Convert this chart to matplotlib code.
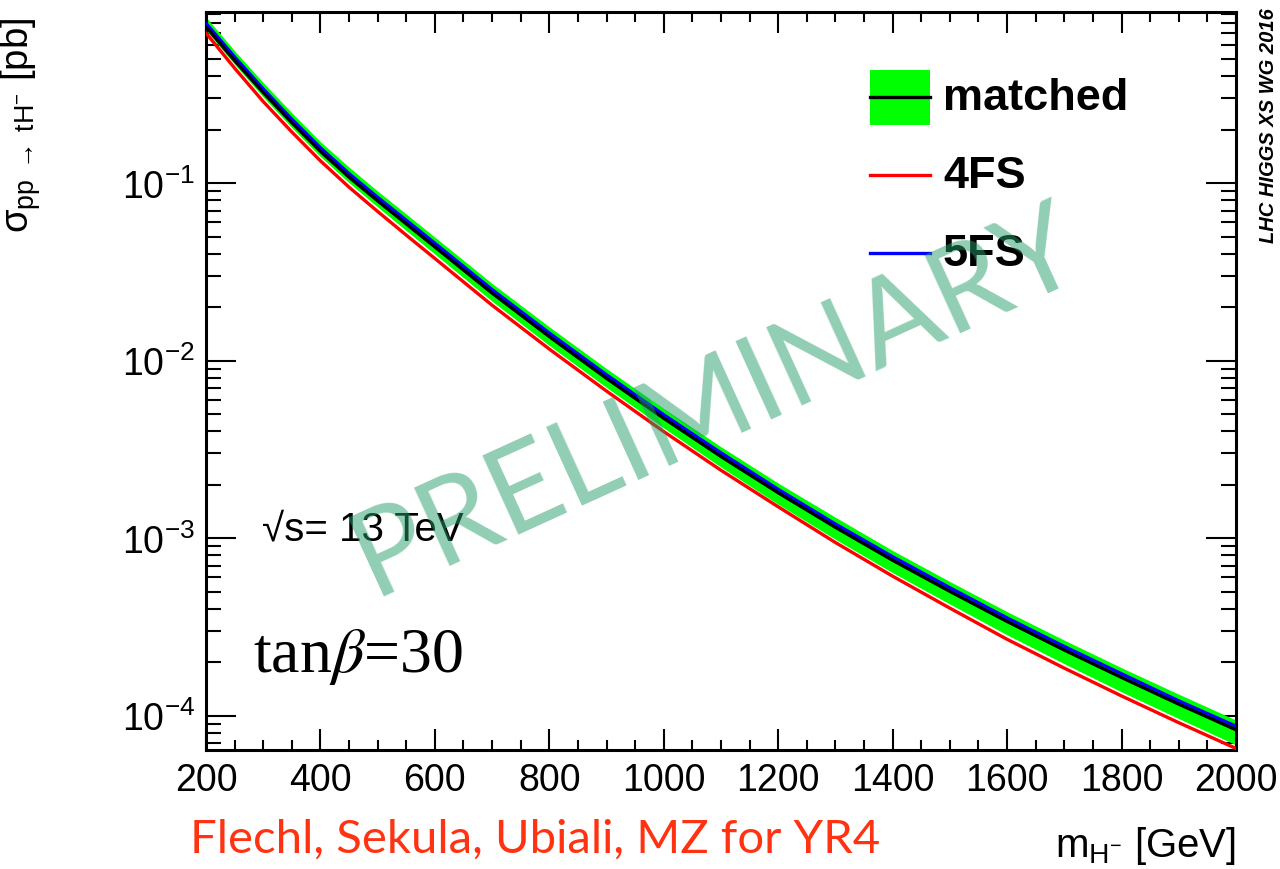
import matplotlib
matplotlib.use("Agg")
import math
import matplotlib.pyplot as plt
from matplotlib.ticker import MultipleLocator, LogLocator, FixedLocator, FuncFormatter, NullFormatter
from matplotlib.patches import Rectangle
from matplotlib.lines import Line2D

plt.rcParams['font.family'] = ['Liberation Sans', 'DejaVu Sans']
plt.rcParams['mathtext.fontset'] = 'custom'
plt.rcParams['mathtext.rm'] = 'Liberation Sans'
plt.rcParams['mathtext.it'] = 'Liberation Sans:italic'
plt.rcParams['mathtext.bf'] = 'Liberation Sans:bold'

# ---- data ----
mass = [200, 250, 300, 350, 400, 450, 500, 550, 600, 700, 800, 900, 1000,
        1100, 1200, 1300, 1400, 1500, 1600, 1700, 1800, 1900, 2000]
matched = [0.759, 0.490, 0.324, 0.219, 0.151, 0.108, 0.0794, 0.0589, 0.0437,
           0.0240, 0.01365, 0.00794, 0.00473, 0.00288, 0.00180, 0.00115,
           0.000750, 0.000501, 0.000339, 0.000234, 0.000164, 0.000116, 0.0000832]
matched_up = [0.861, 0.556, 0.368, 0.249, 0.171, 0.123, 0.0901, 0.0669, 0.0496,
              0.0272, 0.01549, 0.00901, 0.00537, 0.00327, 0.00204, 0.00131,
              0.000851, 0.000569, 0.000385, 0.000266, 0.000186, 0.000132, 0.0000944]
matched_down = [0.724, 0.466, 0.305, 0.205, 0.141, 0.1005, 0.0733, 0.0540, 0.0398,
                0.0216, 0.01216, 0.00705, 0.00417, 0.00251, 0.00155, 0.000984,
                0.000638, 0.000425, 0.000285, 0.000196, 0.000136, 0.0000962, 0.0000684]
fs4 = [0.700, 0.444, 0.288, 0.194, 0.1334, 0.0948, 0.0692, 0.0509, 0.0376,
       0.0205, 0.01161, 0.00673, 0.00398, 0.00241, 0.00150, 0.000944,
       0.000610, 0.000403, 0.000269, 0.000185, 0.000129, 0.0000912, 0.0000653]
fs5 = [0.795, 0.513, 0.339, 0.229, 0.158, 0.113, 0.0831, 0.0617, 0.0458,
       0.0251, 0.01429, 0.00831, 0.00495, 0.00302, 0.00188, 0.00120,
       0.000785, 0.000525, 0.000355, 0.000245, 0.000172, 0.000121, 0.0000871]
xticks = [200, 400, 600, 800, 1000, 1200, 1400, 1600, 1800, 2000]
yticks = [1e-4, 1e-3, 1e-2, 1e-1]

W, H = 1280, 870
fig = plt.figure(figsize=(12.8, 8.7), dpi=100)
L, R, T, B = 206, 1236, 13, 751
ax = fig.add_axes([L / W, 1 - B / H, (R - L) / W, (B - T) / H])

ax.fill_between(mass, matched_down, matched_up, color='#00ff00', lw=0, zorder=2)
ax.plot(mass, fs4, color='#ff0000', lw=2.4, zorder=3)
ax.plot(mass, fs5, color='#0000ff', lw=2.4, zorder=4)
ax.plot(mass, matched, color='black', lw=2.4, zorder=5)

ax.set_yscale('log')
ax.set_xlim(200, 2000)
ax.set_ylim(6.4e-5, 0.92)

ax.xaxis.set_major_locator(FixedLocator(xticks))
ax.xaxis.set_minor_locator(MultipleLocator(50))
ax.yaxis.set_major_locator(FixedLocator(yticks))
ax.yaxis.set_minor_locator(LogLocator(base=10, subs=range(2, 10), numticks=20))
ax.yaxis.set_minor_formatter(NullFormatter())

def yfmt(v, pos):
    e = int(round(math.log10(v)))
    return r'$10^{%d}$' % e
ax.yaxis.set_major_formatter(FuncFormatter(yfmt))

ax.tick_params(which='both', direction='in', top=True, right=True, width=1.5, labelsize=27)
ax.tick_params(axis='x', which='major', length=15, pad=9)
ax.tick_params(axis='x', which='minor', length=7.5)
ax.tick_params(axis='y', which='major', length=21.5, pad=8)
ax.tick_params(axis='y', which='minor', length=10.8)
for s in ax.spines.values():
    s.set_linewidth(2.2)

ax.set_ylabel(r'σ$_{\mathrm{pp}\;\rightarrow\;\mathrm{tH}^{-}}$ [pb]', fontsize=27.5, loc='top')
ax.yaxis.set_label_coords(-0.158, 0.993)
ax.set_xlabel(r'm$_{\mathrm{H}^{-}}$ [GeV]', fontsize=29, loc='right')
ax.xaxis.set_label_coords(1.0, -0.100)
ax.xaxis.label.set_va('top')

# legend (manual)
def fx(x):
    return x / W
def fy(y):
    return 1 - y / H
fig.add_artist(Rectangle((fx(870), fy(126)), fx(930) - fx(870), (126 - 71) / H,
                         transform=fig.transFigure, facecolor='#00ff00', edgecolor='none'))
fig.add_artist(Line2D([fx(870), fx(930)], [fy(98), fy(98)], transform=fig.transFigure, color='black', lw=2.4))
fig.add_artist(Line2D([fx(870), fx(930)], [fy(176), fy(176)], transform=fig.transFigure, color='#ff0000', lw=2.4))
fig.add_artist(Line2D([fx(870), fx(930)], [fy(254), fy(254)], transform=fig.transFigure, color='#0000ff', lw=2.4))
for txt, y in [('matched', 98), ('4FS', 176), ('5FS', 254)]:
    fig.text(fx(943), fy(y), txt, fontsize=32.5, fontweight='bold', va='center', ha='left')

# annotations
fig.text(fx(262), fy(530), '√s= 13 TeV', fontsize=29, va='center', ha='left',
         family=['Liberation Sans', 'DejaVu Sans'])
fig.text(fx(253), fy(657), r'tan$\beta$=30', fontsize=46, va='center', ha='left',
         family='Liberation Serif', math_fontfamily='stix')
fig.text(fx(1268), fy(8), 'LHC HIGGS XS WG 2016', rotation=90, fontsize=14.5,
         fontweight='bold', style='italic', ha='center', va='top')
fig.text(fx(190), fy(840), 'Flechl, Sekula, Ubiali, MZ for YR4', fontsize=34,
         color='#ff3311', ha='left', va='center', family='Lato')

# watermark
fig.text(fx(716), fy(402), 'PRELIMINARY', fontsize=87, rotation=24.5, color='#239d69',
         alpha=0.5, ha='center', va='center', family='Lato', zorder=10)

fig.savefig('out.png', dpi=100)
